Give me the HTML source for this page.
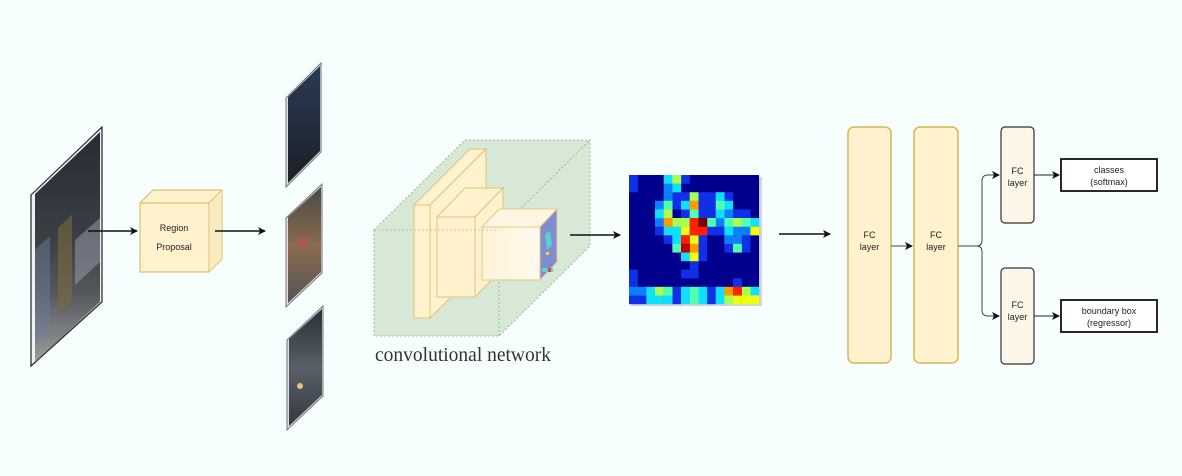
<!DOCTYPE html>
<html><head><meta charset="utf-8">
<style>
html,body{margin:0;padding:0;background:#f7fefe;}
svg{display:block;}
.s{font-family:"Liberation Sans",sans-serif;}
</style></head>
<body>
<svg width="1182" height="476" viewBox="0 0 1182 476" xmlns="http://www.w3.org/2000/svg">
<defs>
<marker id="ah" markerWidth="8" markerHeight="8" refX="7" refY="4" orient="auto" markerUnits="userSpaceOnUse">
<path d="M0,0 L8,4 L0,8 L2,4 z" fill="#111"/>
</marker>
<linearGradient id="ph" x1="0" y1="0" x2="0" y2="1">
<stop offset="0" stop-color="#262c36"/><stop offset="0.45" stop-color="#3a3e44"/><stop offset="0.7" stop-color="#55585a"/><stop offset="1" stop-color="#9a9ca0"/>
</linearGradient>
<linearGradient id="p1" x1="0" y1="0" x2="0" y2="1">
<stop offset="0" stop-color="#2a3a55"/><stop offset="1" stop-color="#1c2028"/>
</linearGradient>
<linearGradient id="p2" x1="0" y1="0" x2="0" y2="1">
<stop offset="0" stop-color="#4a4a44"/><stop offset="0.5" stop-color="#8a6a50"/><stop offset="1" stop-color="#555"/>
</linearGradient>
<linearGradient id="p3" x1="0" y1="0" x2="0" y2="1">
<stop offset="0" stop-color="#2a3038"/><stop offset="0.5" stop-color="#5a6068"/><stop offset="1" stop-color="#333842"/>
</linearGradient>
<linearGradient id="l3" x1="0" y1="0" x2="1" y2="0">
<stop offset="0" stop-color="#fff3d6"/><stop offset="1" stop-color="#fffaf0"/>
</linearGradient>
</defs>

<!-- input image -->
<polygon points="31,195 102,127 102,302 31,366" fill="#f0f0f0" stroke="#222" stroke-width="1.2"/>
<polygon points="35,194 100,132 100,302 35,362" fill="url(#ph)"/>
<polygon points="35,250 50,236 50,330 35,345" fill="#6a7fa0" opacity="0.45"/>
<polygon points="58,228 72,215 72,300 58,313" fill="#7a6a40" opacity="0.6"/>
<polygon points="75,240 100,218 100,262 75,285" fill="#9aa0b0" opacity="0.5"/>

<line x1="88" y1="231" x2="137" y2="231" stroke="#111" stroke-width="1.5" marker-end="url(#ah)"/>

<!-- region proposal cube -->
<polygon points="140,203 153,190 222,190 222,259 209,272 140,272" fill="#fff2cc" stroke="#d6b656" stroke-width="1"/>
<polyline points="140,203 209,203 222,190" fill="none" stroke="#d6b656" stroke-width="1"/>
<line x1="209" y1="203" x2="209" y2="272" stroke="#d6b656" stroke-width="1"/>
<polygon points="209,203 222,190 222,259 209,272" fill="#f5e6b8" opacity="0.6"/>
<text class="s" x="174" y="231" font-size="9" text-anchor="middle" fill="#222">Region</text>
<text class="s" x="174" y="250" font-size="9" text-anchor="middle" fill="#222">Proposal</text>

<line x1="215" y1="231" x2="265" y2="231" stroke="#111" stroke-width="1.5" marker-end="url(#ah)"/>

<!-- crops -->
<polygon points="286,98 321,63 321,152 286,187" fill="#ddd" stroke="#777" stroke-width="1"/>
<polygon points="288,97 320,66 320,151 288,183" fill="url(#p1)"/>
<polygon points="286,218 322,184 322,273 286,307" fill="#ddd" stroke="#777" stroke-width="1"/>
<polygon points="288,217 321,187 321,272 288,303" fill="url(#p2)"/>
<circle cx="303" cy="242" r="5" fill="#c05050" opacity="0.7"/>
<polygon points="287,340 323,306 323,396 287,430" fill="#ddd" stroke="#777" stroke-width="1"/>
<polygon points="289,339 322,309 322,395 289,426" fill="url(#p3)"/>
<circle cx="300" cy="386" r="3" fill="#e8c080"/>

<!-- conv network green box -->
<polygon points="374,230 465,140 590,140 590,246 499,336 374,336" fill="#d5e8d4" opacity="0.95"/>
<g fill="none" stroke="#82b366" stroke-width="0.8" stroke-dasharray="2,2">
<polygon points="374,230 465,140 590,140 590,246 499,336 374,336"/>
<line x1="499" y1="230" x2="499" y2="336"/>
<line x1="499" y1="230" x2="590" y2="140"/>
</g>

<g stroke="#e3c27a" stroke-width="1" fill="#fff2cc" fill-opacity="0.92">
<polygon points="414,205 470,149 486,149 430,205"/>
<polygon points="430,205 486,149 486,262 430,318"/>
<rect x="414" y="205" width="16" height="113"/>
</g>
<g stroke="#e3c27a" stroke-width="1" fill="#fff2cc" fill-opacity="0.92">
<polygon points="437,217 465,188 503,188 475,217"/>
<polygon points="475,217 503,188 503,268 475,297"/>
<rect x="437" y="217" width="38" height="80"/>
</g>
<g stroke="#e8c98a" stroke-width="1">
<polygon points="482,227 499,209 557,209 540,227" fill="#fff6e2"/>
<rect x="482" y="227" width="58" height="53" fill="url(#l3)"/>
<polygon points="540,227 557,209 557,262 540,280" fill="#7f8cd0"/>
</g>
<polygon points="545,235 550,230 552,245 547,250" fill="#50e0d0" opacity="0.8"/>
<rect x="546" y="252" width="3" height="3" fill="#f0e020"/>
<rect x="542" y="268" width="11" height="4" fill="#60d0e0"/>
<rect x="548" y="268" width="3" height="4" fill="#f04020"/>
<line x1="374" y1="230" x2="499" y2="230" stroke="#82b366" stroke-width="0.8" stroke-dasharray="2,2" opacity="0.7"/>

<text x="375" y="361" font-family="'Liberation Serif',serif" font-size="19.5" fill="#333">convolutional network</text>

<line x1="570" y1="235" x2="620" y2="235" stroke="#111" stroke-width="1.5" marker-end="url(#ah)"/>

<!-- heatmap -->
<rect x="631" y="177" width="131" height="129" fill="#aaa" opacity="0.5"/>
<g transform="translate(629,175) scale(8.67,8.6)">
<rect x="0" y="0" width="15" height="15" fill="#00008c"/>
<g fill="#1030e8">
<rect x="0" y="0" width="1.02" height="1.02"/><rect x="6" y="0" width="1.02" height="1.02"/>
<rect x="0" y="1" width="1.02" height="1.02"/>
<rect x="5" y="2" width="1.02" height="1.02"/><rect x="6" y="2" width="1.02" height="1.02"/><rect x="8" y="2" width="1.02" height="1.02"/><rect x="9" y="2" width="1.02" height="1.02"/><rect x="11" y="2" width="1.02" height="1.02"/>
<rect x="5" y="3" width="1.02" height="1.02"/><rect x="8" y="3" width="1.02" height="1.02"/><rect x="9" y="3" width="1.02" height="1.02"/>
<rect x="6" y="4" width="1.02" height="1.02"/><rect x="8" y="4" width="1.02" height="1.02"/><rect x="9" y="4" width="1.02" height="1.02"/><rect x="12" y="4" width="1.02" height="1.02"/><rect x="13" y="4" width="1.02" height="1.02"/>
<rect x="3" y="6" width="1.02" height="1.02"/><rect x="9" y="6" width="1.02" height="1.02"/><rect x="10" y="6" width="1.02" height="1.02"/>
<rect x="4" y="7" width="1.02" height="1.02"/><rect x="8" y="7" width="1.02" height="1.02"/><rect x="13" y="7" width="1.02" height="1.02"/>
<rect x="8" y="8" width="1.02" height="1.02"/><rect x="11" y="8" width="1.02" height="1.02"/><rect x="13" y="8" width="1.02" height="1.02"/>
<rect x="8" y="9" width="1.02" height="1.02"/><rect x="7" y="10" width="1.02" height="1.02"/>
<rect x="0" y="11" width="1.02" height="1.02"/><rect x="6" y="11" width="1.02" height="1.02"/><rect x="7" y="11" width="1.02" height="1.02"/>
<rect x="0" y="12" width="1.02" height="1.02"/><rect x="12" y="12" width="1.02" height="1.02"/>
<rect x="5" y="13" width="1.02" height="1.02"/><rect x="9" y="13" width="1.02" height="1.02"/>
<rect x="0" y="14" width="1.02" height="1.02"/><rect x="1" y="14" width="1.02" height="1.02"/><rect x="5" y="14" width="1.02" height="1.02"/><rect x="9" y="14" width="1.02" height="1.02"/>
</g>
<g fill="#0a80ff">
<rect x="4" y="1" width="1.02" height="1.02"/><rect x="4" y="2" width="1.02" height="1.02"/><rect x="3" y="3" width="1.02" height="1.02"/>
<rect x="11" y="4" width="1.02" height="1.02"/><rect x="3" y="5" width="1.02" height="1.02"/><rect x="10" y="5" width="1.02" height="1.02"/>
<rect x="12" y="6" width="1.02" height="1.02"/><rect x="13" y="6" width="1.02" height="1.02"/>
<rect x="11" y="7" width="1.02" height="1.02"/><rect x="12" y="7" width="1.02" height="1.02"/>
<rect x="0" y="13" width="1.02" height="1.02"/><rect x="1" y="13" width="1.02" height="1.02"/>
</g>
<g fill="#10e0ff">
<rect x="4" y="0" width="1.02" height="1.02"/><rect x="5" y="1" width="1.02" height="1.02"/><rect x="10" y="2" width="1.02" height="1.02"/>
<rect x="6" y="3" width="1.02" height="1.02"/><rect x="11" y="3" width="1.02" height="1.02"/>
<rect x="3" y="4" width="1.02" height="1.02"/><rect x="10" y="4" width="1.02" height="1.02"/><rect x="14" y="5" width="1.02" height="1.02"/>
<rect x="4" y="6" width="1.02" height="1.02"/><rect x="5" y="6" width="1.02" height="1.02"/><rect x="11" y="6" width="1.02" height="1.02"/>
<rect x="5" y="7" width="1.02" height="1.02"/><rect x="6" y="9" width="1.02" height="1.02"/>
<rect x="2" y="13" width="1.02" height="1.02"/><rect x="6" y="13" width="1.02" height="1.02"/><rect x="8" y="13" width="1.02" height="1.02"/><rect x="10" y="13" width="1.02" height="1.02"/><rect x="14" y="13" width="1.02" height="1.02"/>
<rect x="2" y="14" width="1.02" height="1.02"/><rect x="3" y="14" width="1.02" height="1.02"/><rect x="4" y="14" width="1.02" height="1.02"/><rect x="6" y="14" width="1.02" height="1.02"/><rect x="8" y="14" width="1.02" height="1.02"/><rect x="10" y="14" width="1.02" height="1.02"/>
</g>
<g fill="#50ffb0">
<rect x="4" y="3" width="1.02" height="1.02"/><rect x="10" y="3" width="1.02" height="1.02"/><rect x="7" y="4" width="1.02" height="1.02"/>
<rect x="9" y="5" width="1.02" height="1.02"/><rect x="11" y="5" width="1.02" height="1.02"/><rect x="13" y="5" width="1.02" height="1.02"/>
<rect x="5" y="8" width="1.02" height="1.02"/><rect x="12" y="8" width="1.02" height="1.02"/>
<rect x="4" y="13" width="1.02" height="1.02"/><rect x="7" y="13" width="1.02" height="1.02"/><rect x="7" y="14" width="1.02" height="1.02"/>
</g>
<g fill="#a8ff50">
<rect x="5" y="0" width="1.02" height="1.02"/><rect x="7" y="2" width="1.02" height="1.02"/><rect x="4" y="4" width="1.02" height="1.02"/>
<rect x="5" y="5" width="1.02" height="1.02"/><rect x="6" y="5" width="1.02" height="1.02"/><rect x="12" y="5" width="1.02" height="1.02"/>
<rect x="3" y="13" width="1.02" height="1.02"/><rect x="13" y="13" width="1.02" height="1.02"/><rect x="11" y="14" width="1.02" height="1.02"/>
</g>
<g fill="#f0ff10">
<rect x="6" y="6" width="1.02" height="1.02"/><rect x="14" y="6" width="1.02" height="1.02"/><rect x="7" y="7" width="1.02" height="1.02"/>
<rect x="7" y="9" width="1.02" height="1.02"/><rect x="12" y="14" width="1.02" height="1.02"/><rect x="13" y="14" width="1.02" height="1.02"/><rect x="14" y="14" width="1.02" height="1.02"/>
</g>
<g fill="#ff9a00">
<rect x="7" y="3" width="1.02" height="1.02"/><rect x="4" y="5" width="1.02" height="1.02"/><rect x="7" y="8" width="1.02" height="1.02"/><rect x="11" y="13" width="1.02" height="1.02"/>
</g>
<g fill="#ff2000">
<rect x="7" y="5" width="1.02" height="1.02"/><rect x="7" y="6" width="1.02" height="1.02"/><rect x="8" y="6" width="1.02" height="1.02"/>
<rect x="6" y="7" width="1.02" height="1.02"/><rect x="12" y="13" width="1.02" height="1.02"/>
</g>
<rect x="6" y="8" width="1.02" height="1.02" fill="#c00000"/>
<rect x="8" y="5" width="1.02" height="1.02" fill="#7a0000"/>
</g>

<line x1="779" y1="234" x2="830" y2="234" stroke="#111" stroke-width="1.5" marker-end="url(#ah)"/>

<!-- FC layers -->
<rect x="848" y="127" width="43" height="236" rx="6" fill="#fff2cc" stroke="#d6b656" stroke-width="1.5"/>
<text class="s" x="869.5" y="238" font-size="9" text-anchor="middle" fill="#222">FC</text>
<text class="s" x="869.5" y="250" font-size="9" text-anchor="middle" fill="#222">layer</text>
<line x1="891" y1="246" x2="912" y2="246" stroke="#444" stroke-width="1" marker-end="url(#ah)"/>
<rect x="914" y="127" width="44" height="236" rx="6" fill="#fff2cc" stroke="#d6b656" stroke-width="1.5"/>
<text class="s" x="936" y="238" font-size="9" text-anchor="middle" fill="#222">FC</text>
<text class="s" x="936" y="250" font-size="9" text-anchor="middle" fill="#222">layer</text>

<path d="M958,246 L977,246 Q982,246 982,240 L982,181 Q982,175 988,175 L999,175" fill="none" stroke="#444" stroke-width="1" marker-end="url(#ah)"/>
<path d="M977,246 Q982,246 982,252 L982,310 Q982,316 988,316 L999,316" fill="none" stroke="#444" stroke-width="1" marker-end="url(#ah)"/>

<rect x="1001" y="127" width="33" height="96" rx="4" fill="#fbf6e8" stroke="#333" stroke-width="1.2"/>
<text class="s" x="1017.5" y="174" font-size="9" text-anchor="middle" fill="#222">FC</text>
<text class="s" x="1017.5" y="186" font-size="9" text-anchor="middle" fill="#222">layer</text>
<rect x="1001" y="268" width="33" height="96" rx="4" fill="#fbf6e8" stroke="#333" stroke-width="1.2"/>
<text class="s" x="1017.5" y="308" font-size="9" text-anchor="middle" fill="#222">FC</text>
<text class="s" x="1017.5" y="320" font-size="9" text-anchor="middle" fill="#222">layer</text>

<line x1="1034" y1="175" x2="1059" y2="175" stroke="#222" stroke-width="1" marker-end="url(#ah)"/>
<line x1="1034" y1="316" x2="1059" y2="316" stroke="#222" stroke-width="1" marker-end="url(#ah)"/>

<rect x="1061" y="159" width="96" height="32" fill="#fff" stroke="#111" stroke-width="1.8"/>
<text class="s" x="1109" y="173" font-size="9" text-anchor="middle" fill="#222">classes</text>
<text class="s" x="1109" y="185" font-size="9" text-anchor="middle" fill="#222">(softmax)</text>
<rect x="1061" y="300" width="96" height="32" fill="#fff" stroke="#111" stroke-width="1.8"/>
<text class="s" x="1109" y="314" font-size="9" text-anchor="middle" fill="#222">boundary box</text>
<text class="s" x="1109" y="326" font-size="9" text-anchor="middle" fill="#222">(regressor)</text>
</svg>
</body></html>
